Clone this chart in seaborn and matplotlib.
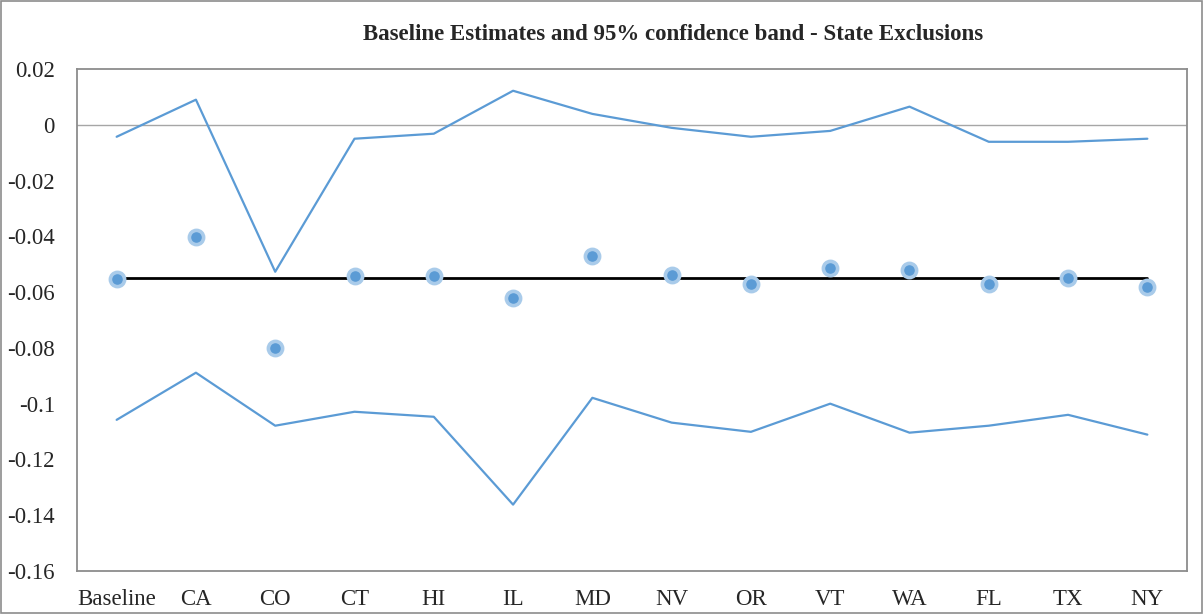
import pandas as pd
import matplotlib.pyplot as plt
import seaborn as sns
import numpy as np

# Values
states = ['Baseline', 'CA', 'CO', 'CT', 'HI', 'IL', 'MD', 'NV', 'OR', 'VT', 'WA', 'FL', 'TX', 'NY']
estimate = [-0.0552, -0.0402, -0.080, -0.0541, -0.0541, -0.062, -0.047, -0.054,
            -0.057, -0.0513, -0.052, -0.057, -0.055, -0.058]
upper = [-0.0043, 0.009, -0.0527, -0.005, -0.0032, 0.0122, 0.0039, -0.0011,
         -0.0043, -0.0022, 0.0065, -0.0061, -0.0061, -0.005]
lower = [-0.1058, -0.0889, -0.1079, -0.1029, -0.1047, -0.1362, -0.0979, -0.1068,
         -0.1101, -0.1000, -0.1104, -0.1079, -0.104, -0.1111]
baseline_value = -0.055

df = pd.DataFrame({'state': states, 'estimate': estimate, 'upper': upper, 'lower': lower})
df['baseline'] = baseline_value

sns.set_style('white')
plt.rcParams['font.family'] = ['Liberation Serif', 'DejaVu Serif']

blue = '#5B9BD5'
fig = plt.figure(figsize=(12.04, 6.14), dpi=100)
ax = fig.add_axes([77 / 1204, 1 - 571 / 614, 1110 / 1204, 502 / 614])

ax.axhline(0, color='#A6A6A6', linewidth=1, zorder=0)
sns.lineplot(data=df, x='state', y='upper', sort=False, color=blue, linewidth=1.6, ax=ax)
sns.lineplot(data=df, x='state', y='lower', sort=False, color=blue, linewidth=1.6, ax=ax)
sns.lineplot(data=df, x='state', y='baseline', sort=False, color='black', linewidth=2, ax=ax)
sns.scatterplot(data=df, x='state', y='estimate', color=blue, s=105,
                edgecolor='#A9CBEA', linewidth=2.6, zorder=5, ax=ax)

ax.set_xlim(-0.5, len(states) - 0.5)
ax.set_ylim(-0.16, 0.02)
ax.set_yticks(np.arange(-0.16, 0.021, 0.02))
ax.set_yticklabels(['-0.16', '-0.14', '-0.12', '-0.1', '-0.08', '-0.06', '-0.04', '-0.02', '0', '0.02'])
ax.tick_params(axis='both', labelsize=16.5, length=0)
ax.tick_params(axis='y', pad=16)
ax.tick_params(axis='x', pad=13)
ax.set_xlabel('')
ax.set_ylabel('')
for sp in ax.spines.values():
    sp.set_color('#8C8C8C')
    sp.set_linewidth(1.3)

fig.text(673 / 1204, 1 - 35 / 614, 'Baseline Estimates and 95% confidence band - State Exclusions',
         ha='center', va='center', fontsize=16.5, fontweight='bold')

# outer frame
fig.patches.append(plt.Rectangle((0.001, 0.002), 0.997, 0.996, transform=fig.transFigure,
                                 fill=False, edgecolor='#8C8C8C', linewidth=1.2))

plt.savefig('out.png', dpi=100)
